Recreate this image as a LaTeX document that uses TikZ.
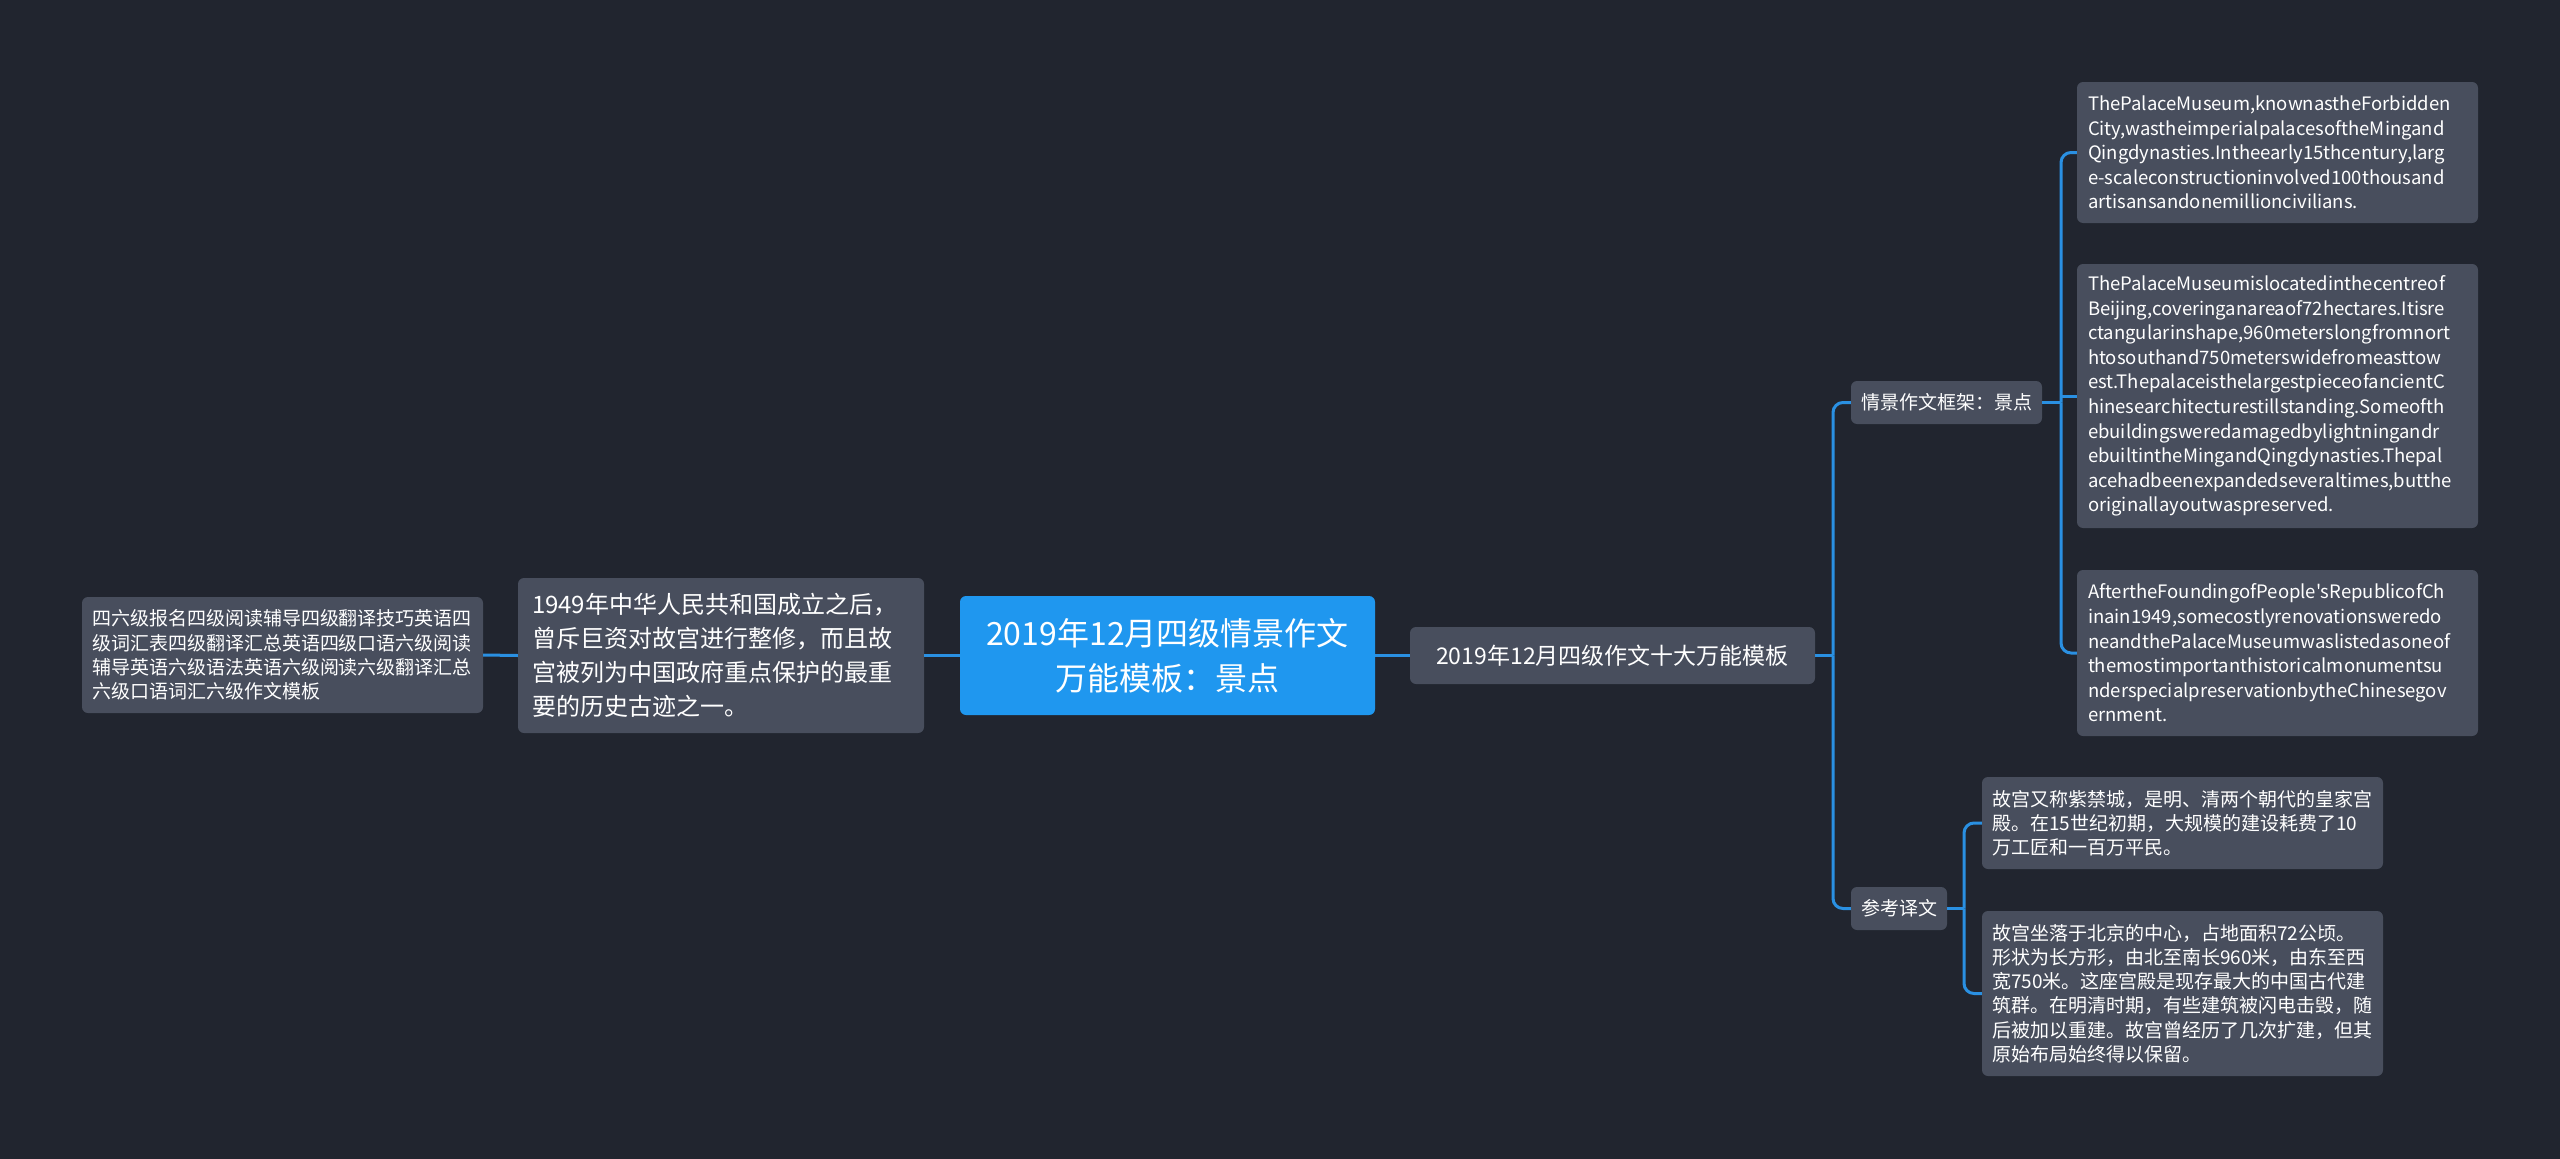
\documentclass[tikz,border=0pt]{standalone}
\usepackage{fontspec}
\setmainfont{Noto Sans CJK SC}[Ligatures=TeXOff]
\definecolor{bgc}{HTML}{21252F}
\definecolor{nodegray}{HTML}{484E5D}
\definecolor{mainblue}{HTML}{1F97EF}
\definecolor{linkblue}{HTML}{2A90E2}
\begin{document}
\begin{tikzpicture}[x=1pt,y=-1pt,
  box/.style={fill=nodegray, rounded corners=6pt, text=white, align=left, inner xsep=0pt, inner ysep=0pt, anchor=center},
  cbox/.style={fill=nodegray, rounded corners=6pt, text=white, align=center, inner xsep=0pt, inner ysep=0pt, anchor=center},
  link/.style={draw=linkblue, line width=3pt, rounded corners=10pt}]
\fill[bgc] (0,0) rectangle (2560,1159);
\useasboundingbox (0,0) rectangle (2560,1159);

% left tags box 82-483 x 597-713
\node[box, minimum width=401pt, minimum height=116pt, text width=381pt, font=\fontsize{19}{24.4}\selectfont] (tags) at (282.5,655)
 {四六级报名四级阅读辅导四级翻译技巧英语四\\级词汇表四级翻译汇总英语四级口语六级阅读\\辅导英语六级语法英语六级阅读六级翻译汇总\\六级口语词汇六级作文模板};

% 1949 box 518-924 x 578-733
\node[box, minimum width=406pt, minimum height=155pt, text width=378pt, font=\fontsize{24}{34}\selectfont] (p1949) at (721,655.5)
 {1949年中华人民共和国成立之后，\\曾斥巨资对故宫进行整修，而且故\\宫被列为中国政府重点保护的最重\\要的历史古迹之一。};

% main 960-1375 x 596-715
\node[cbox, fill=mainblue, minimum width=415pt, minimum height=119pt, font=\fontsize{32}{45}\selectfont] (main) at (1167.5,655.5)
 {2019年12月四级情景作文\\万能模板：景点};

% ten 1410-1815 x 627-684
\node[cbox, minimum width=405pt, minimum height=57pt, font=\fontsize{23}{30}\selectfont] (ten) at (1612.5,655.5)
 {2019年12月四级作文十大万能模板};

% qj 1851-2042 x 381-424
\node[cbox, minimum width=191pt, minimum height=43pt, font=\fontsize{19}{24}\selectfont] (qj) at (1946.5,402.5)
 {情景作文框架：景点};

% ck 1851-1947 x 887-930
\node[cbox, minimum width=96pt, minimum height=43pt, font=\fontsize{19}{24}\selectfont] (ck) at (1899,908.5)
 {参考译文};

% English boxes x 2077-2478
\node[box, minimum width=401pt, minimum height=141pt, text width=379pt, font=\fontsize{18.5}{24.6}\selectfont] (e1) at (2277.5,152.5)
 {ThePalaceMuseum,knownastheForbidden\\City,wastheimperialpalacesoftheMingand\\Qingdynasties.Intheearly15thcentury,larg\\e-scaleconstructioninvolved100thousand\\artisansandonemillioncivilians.};

\node[box, minimum width=401pt, minimum height=264pt, text width=379pt, font=\fontsize{18.5}{24.6}\selectfont] (e2) at (2277.5,396)
 {ThePalaceMuseumislocatedinthecentreof\\Beijing,coveringanareaof72hectares.Itisre\\ctangularinshape,960meterslongfromnort\\htosouthand750meterswidefromeasttow\\est.ThepalaceisthelargestpieceofancientC\\hinesearchitecturestillstanding.Someofth\\ebuildingsweredamagedbylightningandr\\ebuiltintheMingandQingdynasties.Thepal\\acehadbeenexpandedseveraltimes,butthe\\originallayoutwaspreserved.};

\node[box, minimum width=401pt, minimum height=166pt, text width=379pt, font=\fontsize{18.5}{24.6}\selectfont] (e3) at (2277.5,653)
 {AftertheFoundingofPeople's{}RepublicofCh\\inain1949,somecostlyrenovationsweredo\\neandthePalaceMuseumwaslistedasoneof\\themostimportanthistoricalmonumentsu\\nderspecialpreservationbytheChinesegov\\ernment.};

% Chinese boxes x 1982-2383
\node[box, minimum width=401pt, minimum height=92pt, text width=381pt, font=\fontsize{19}{24.2}\selectfont] (c1) at (2182.5,823)
 {故宫又称紫禁城，是明、清两个朝代的皇家宫\\殿。在15世纪初期，大规模的建设耗费了10\\万工匠和一百万平民。};

\node[box, minimum width=401pt, minimum height=165pt, text width=381pt, font=\fontsize{19}{24.2}\selectfont] (c2) at (2182.5,993.5)
 {故宫坐落于北京的中心，占地面积72公顷。\\形状为长方形，由北至南长960米，由东至西\\宽750米。这座宫殿是现存最大的中国古代建\\筑群。在明清时期，有些建筑被闪电击毁，随\\后被加以重建。故宫曾经历了几次扩建，但其\\原始布局始终得以保留。};

% junctions
\coordinate (j1) at (1833,655.5);
\coordinate (j2) at (2061,402.5);
\coordinate (j3) at (1964,908.5);

% connectors
\draw[link] (tags.east) -- (p1949.west);
\draw[link] (p1949.east) -- (main.west);
\draw[link] (main.east) -- (ten.west);
\draw[link] (ten.east) -- (j1);
\draw[link] (j1) |- (qj.west);
\draw[link] (j1) |- (ck.west);
\draw[link] (qj.east) -- (j2);
\draw[link] (j2) |- (e1.west);
\draw[link] (j2) |- (e3.west);
\draw[link] (j2 |- e2.west) -- (e2.west);
\draw[link] (ck.east) -- (j3);
\draw[link] (j3) |- (c1.west);
\draw[link] (j3) |- (c2.west);
\end{tikzpicture}
\end{document}
